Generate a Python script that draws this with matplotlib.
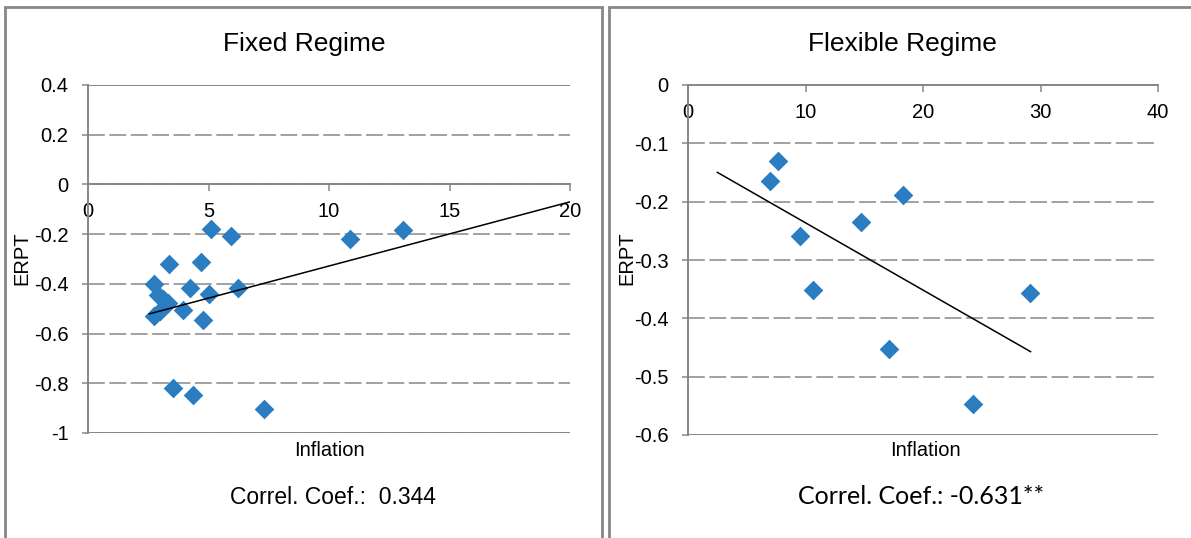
import matplotlib
matplotlib.use('Agg')
import matplotlib.pyplot as plt
import numpy as np
from matplotlib.patches import Rectangle

# fixed regime: inflation vs ERPT
fixed_infl = [5.10, 5.94, 10.89, 13.05, 3.38, 4.70, 2.75, 4.23, 6.24, 5.00,
              2.90, 3.10, 3.33, 3.95, 2.99, 2.74, 4.78, 3.52, 4.37, 7.29]
fixed_erpt = [-0.178, -0.207, -0.219, -0.185, -0.320, -0.313, -0.400, -0.415, -0.418, -0.440,
              -0.445, -0.460, -0.478, -0.505, -0.510, -0.530, -0.546, -0.819, -0.849, -0.903]
fixed_trend_x = [2.55, 20]

# flexible regime
flex_infl = [7.63, 6.99, 18.28, 14.69, 9.53, 10.62, 29.12, 17.09, 24.25]
flex_erpt = [-0.131, -0.164, -0.188, -0.235, -0.258, -0.352, -0.356, -0.452, -0.546]
flex_trend_x = [2.5, 29.15]

fixed_yticks = [0.4, 0.2, 0, -0.2, -0.4, -0.6, -0.8, -1]
fixed_ylabels = ['0.4', '0.2', '0', '-0.2', '-0.4', '-0.6', '-0.8', '-1']
fixed_xticks = [0, 5, 10, 15, 20]
flex_yticks = [0, -0.1, -0.2, -0.3, -0.4, -0.5, -0.6]
flex_ylabels = ['0', '-0.1', '-0.2', '-0.3', '-0.4', '-0.5', '-0.6']
flex_xticks = [0, 10, 20, 30, 40]

W, H = 1191, 538
plt.rcParams['font.family'] = ['Liberation Sans', 'DejaVu Sans']
plt.rcParams['axes.unicode_minus'] = False

gray = '#878787'
blue = '#2A7DC0'

fig = plt.figure(figsize=(W / 100, H / 100), dpi=100)


def px_box(x0, y0, x1, y1):
    return [x0 / W, 1 - y1 / H, (x1 - x0) / W, (y1 - y0) / H]


def ftext(x, y, s, **kw):
    fig.text(x / W, 1 - y / H, s, ha='center', va='center', **kw)


# panel frames
fig.add_artist(Rectangle((4.7 / W, -0.1), (602 - 4.7) / W, 1.1 - 6.7 / H,
                         transform=fig.transFigure, fill=False, ec=gray, lw=2))
fig.add_artist(Rectangle((609 / W, -0.1), 0.6, 1.1 - 6.7 / H,
                         transform=fig.transFigure, fill=False, ec=gray, lw=2))

ax1 = fig.add_axes(px_box(88, 85, 570, 433))
ax2 = fig.add_axes(px_box(688, 85, 1158, 435))


def style(ax, ylim, yticks, ylabels, xlim, xticks):
    ax.set_xlim(xlim)
    ax.set_ylim(ylim)
    ax.spines['top'].set_visible(False)
    ax.spines['right'].set_visible(False)
    ax.spines['bottom'].set_position(('data', 0))
    for s in ['left', 'bottom']:
        ax.spines[s].set_color(gray)
        ax.spines[s].set_linewidth(1.4)
    ax.set_yticks(yticks, ylabels)
    ax.set_xticks(xticks, [str(t) for t in xticks])
    ax.tick_params(axis='y', direction='out', length=4, width=1.1, color=gray, pad=10, labelsize=14.5)
    ax.tick_params(axis='x', direction='out', length=5, width=1.1, color=gray, pad=8, labelsize=14.5)
    ax.grid(axis='y', color=gray, lw=1.1, linestyle=(0, (11, 3)))
    ax.set_axisbelow(True)
    for y in ylim:
        ax.axhline(y, color=gray, lw=1.4, zorder=1.5)  # solid plot-area edges


style(ax1, (-1, 0.4), fixed_yticks, fixed_ylabels, (0, 20), fixed_xticks)
style(ax2, (-0.6, 0), flex_yticks, flex_ylabels, (0, 40), flex_xticks)

for ax, x, y, tx in [(ax1, fixed_infl, fixed_erpt, fixed_trend_x),
                     (ax2, flex_infl, flex_erpt, flex_trend_x)]:
    ax.scatter(x, y, marker='D', s=10 ** 2, color=blue, lw=0, zorder=3)
    k, b = np.polyfit(x, y, 1)
    tx = np.array(tx)
    ax.plot(tx, k * tx + b, color='black', lw=1.1, zorder=4)

ftext(304, 44, 'Fixed Regime', fontsize=19)
ftext(902, 44, 'Flexible Regime', fontsize=19)
ftext(21.5, 258, 'ERPT', fontsize=14.5, rotation=90)
ftext(627, 258, 'ERPT', fontsize=14.5, rotation=90)
ftext(329, 451, 'Inflation', fontsize=14.5)
ftext(925, 451, 'Inflation', fontsize=14.5)
ftext(333, 497, 'Correl. Coef.:  0.344', fontsize=16.5)
ftext(921, 497, 'Correl. Coef.: -0.631**', fontsize=18, family=['Lato', 'DejaVu Sans'])

fig.savefig('out.png', dpi=100)
